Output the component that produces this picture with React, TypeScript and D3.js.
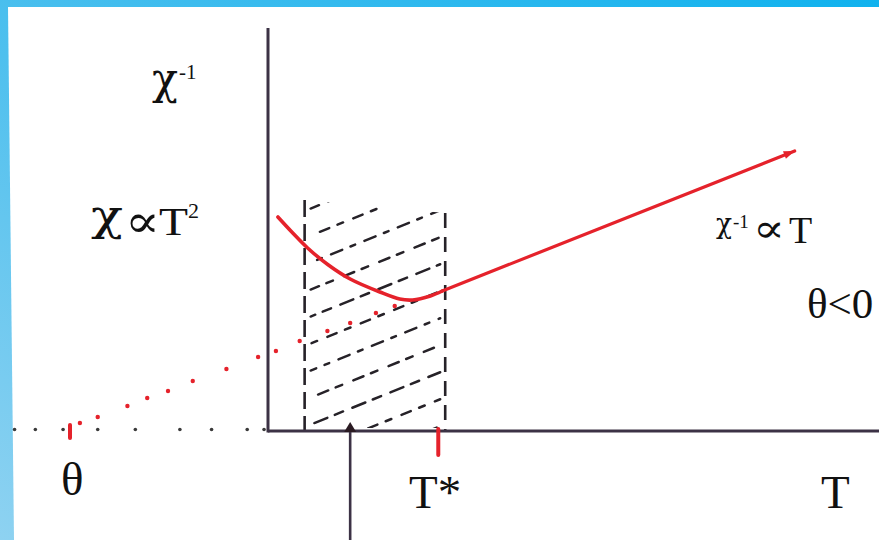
import React from "react";
import * as d3 from "d3";

// Temperature (T) and inverse susceptibility (χ⁻¹) in arbitrary units.
const thetaT = -2;
const tStarT = 1.72;
const bandStartT = 0.37;
const bandEndT = 1.79;

// Low-temperature curve χ⁻¹(T): falls from the axis to a minimum below T*.
const lowCurve: [number, number][] = [
  [0.1, 2.14],
  [0.25, 1.98],
  [0.4, 1.83],
  [0.61, 1.66],
  [0.83, 1.52],
  [1.13, 1.39],
  [1.33, 1.32],
  [1.46, 1.31],
  [1.64, 1.35],
  [1.76, 1.4],
];

// High-temperature Curie–Weiss line χ⁻¹ ∝ (T − θ).
const highLine: [number, number][] = [
  [1.76, 1.4],
  [5.32, 2.8],
];

// Dotted extrapolation of the linear part back towards θ.
const extrapolationDots: [number, number][] = [
  [-1.9, 0.08],
  [-1.72, 0.14],
  [-1.42, 0.25],
  [-1.22, 0.33],
  [-1.01, 0.4],
  [-0.76, 0.5],
  [-0.42, 0.62],
  [-0.1, 0.74],
  [0.08, 0.8],
  [0.32, 0.9],
  [0.6, 1.0],
  [0.83, 1.08],
  [1.09, 1.18],
  [1.28, 1.25],
];

// Dotted continuation of the T axis to negative temperatures.
const negAxisDots: number[] = [-2.56, -2.35, -2.07, -1.72, -1.34, -0.89, -0.57, -0.21, -0.04];

// Hatched band: left-edge levels of the diagonal dashed strokes.
const hatchLevels: number[] = [2.2, 1.93, 1.66, 1.39, 1.12, 0.85, 0.58, 0.31, 0.04, -0.23, -0.5];
const hatchSlope = 0.4;
const bandTopLeft = 2.31;
const bandTopRight = 2.18;

const arrowT = 0.83;

const RED = "#e5222b";
const AXIS = "#3c3245";
const INK = "#262228";
const FONT = "'Liberation Serif', 'Times New Roman', serif";
const GREEK = "'DejaVu Serif', 'Liberation Serif', serif";

const hatchDashes = ["9 10 14 8", "6 11 10 9", "12 9 5 10", "7 12 11 8"];

export default function App() {
  const W = 879;
  const H = 540;
  const x = d3.scaleLinear().domain([-2, 6]).range([70, 862]);
  const y = d3.scaleLinear().domain([0, 4]).range([431, 31]);

  const curvePath = d3
    .line<[number, number]>()
    .x((d) => x(d[0]))
    .y((d) => y(d[1]))
    .curve(d3.curveCatmullRom.alpha(0.5))(lowCurve) as string;

  const linePath = d3
    .line<[number, number]>()
    .x((d) => x(d[0]))
    .y((d) => y(d[1]))(highLine) as string;

  const x0 = x(0);
  const y0 = y(0);
  const bx0 = x(bandStartT);
  const bx1 = x(bandEndT);
  const bandW = bandEndT - bandStartT;

  // Arrowhead geometry at the end of the high-T line
  const [ea, eb] = highLine;
  const ex = x(eb[0]);
  const ey = y(eb[1]);
  const ang = Math.atan2(y(eb[1]) - y(ea[1]), x(eb[0]) - x(ea[0]));
  const headLen = 11;
  const headHalf = 4;
  const hx = ex - headLen * Math.cos(ang);
  const hy = ey - headLen * Math.sin(ang);
  const arrowHead = [
    [ex, ey],
    [hx - headHalf * Math.sin(ang), hy + headHalf * Math.cos(ang)],
    [hx + headHalf * Math.sin(ang), hy - headHalf * Math.cos(ang)],
  ]
    .map((p) => p.join(","))
    .join(" ");

  const ax = x(arrowT);

  return (
    <svg
      width={W}
      height={H}
      viewBox={`0 0 ${W} ${H}`}
      style={{ position: "fixed", left: 0, top: 0, display: "block" }}
    >
      <defs>
        <linearGradient id="frame" x1="0" y1="1" x2="1" y2="0">
          <stop offset="0%" stopColor="#8ed2f1" />
          <stop offset="45%" stopColor="#4fc0ee" />
          <stop offset="100%" stopColor="#10b2ee" />
        </linearGradient>
        <clipPath id="band">
          <polygon
            points={`${bx0},${y(bandTopLeft)} ${bx1},${y(bandTopRight)} ${bx1},${y0 - 3} ${bx0},${y0 - 3}`}
          />
        </clipPath>
      </defs>

      {/* frame and white sheet */}
      <rect x={0} y={0} width={W} height={H} fill="url(#frame)" />
      <polygon points={`8,7 ${W},7 ${W},${H} 14,${H}`} fill="#ffffff" />

      {/* hatched region between the two dashed verticals */}
      <g clipPath="url(#band)">
        {hatchLevels.map((lv, i) => (
          <line
            key={i}
            x1={bx0 + 6}
            y1={y(lv + hatchSlope * (6 / 99))}
            x2={bx1 - 5}
            y2={y(lv + hatchSlope * (bandW - 5 / 99))}
            stroke={INK}
            strokeWidth={2.5}
            strokeDasharray={hatchDashes[i % hatchDashes.length]}
            strokeDashoffset={i * 7}
            strokeLinecap="round"
          />
        ))}
      </g>
      <line x1={bx0} y1={y(bandTopLeft)} x2={bx0} y2={y0} stroke={INK} strokeWidth={2.6} strokeDasharray="17 7" />
      <line x1={bx1} y1={y(bandTopRight)} x2={bx1} y2={y0} stroke={INK} strokeWidth={2.6} strokeDasharray="15 9" />

      {/* negative-T dotted axis */}
      {negAxisDots.map((t, i) => (
        <circle key={i} cx={x(t)} cy={y0 - 1.5} r={1.8} fill="#3a3a3a" />
      ))}

      {/* axes */}
      <line x1={x0} y1={28} x2={x0} y2={y0 + 1.5} stroke={AXIS} strokeWidth={3} />
      <line x1={x0} y1={y0} x2={W} y2={y0} stroke={AXIS} strokeWidth={3} />

      {/* extrapolation dots */}
      {extrapolationDots.map((d, i) => (
        <circle key={i} cx={x(d[0])} cy={y(d[1])} r={2.2} fill={RED} />
      ))}

      {/* χ⁻¹(T) curve and Curie–Weiss line */}
      <path d={curvePath} fill="none" stroke={RED} strokeWidth={3.6} strokeLinecap="round" />
      <path d={linePath} fill="none" stroke={RED} strokeWidth={3.2} strokeLinecap="round" />
      <polygon points={arrowHead} fill={RED} />

      {/* θ and T* markers */}
      <line x1={x(thetaT)} y1={y0 - 6} x2={x(thetaT)} y2={y0 + 7} stroke={RED} strokeWidth={4} strokeLinecap="round" />
      <line x1={x(tStarT)} y1={y0 - 2} x2={x(tStarT)} y2={y0 + 24} stroke={RED} strokeWidth={4} strokeLinecap="round" />

      {/* upward arrow from below */}
      <line x1={ax} y1={H} x2={ax} y2={y0 - 2} stroke={AXIS} strokeWidth={2.6} />
      <polygon points={`${ax},${y0 - 9} ${ax - 6},${y0 + 1} ${ax + 6},${y0 + 1}`} fill="#2a1a22" />

      {/* labels */}
      <g fontFamily={FONT} fill="#111">
        <text x={152} y={94} fontSize={44} fontFamily={GREEK} textLength={26} lengthAdjust="spacingAndGlyphs">χ</text>
        <text x={179} y={79} fontSize={21}>-1</text>

        <text x={91} y={230} fontSize={42} fontFamily={GREEK} textLength={32} lengthAdjust="spacingAndGlyphs">χ</text>
        <text x={125} y={237} fontSize={46} fontFamily={GREEK} textLength={35} lengthAdjust="spacingAndGlyphs">∝</text>
        <text x={159} y={235} fontSize={40} textLength={29} lengthAdjust="spacingAndGlyphs">T</text>
        <text x={188} y={218} fontSize={22}>2</text>

        <text x={716} y={233} fontSize={28} fontFamily={GREEK} textLength={16} lengthAdjust="spacingAndGlyphs">χ</text>
        <text x={733} y={228} fontSize={19}>-1</text>
        <text x={753} y={242} fontSize={40} fontFamily={GREEK} textLength={32} lengthAdjust="spacingAndGlyphs">∝</text>
        <text x={789} y={243} fontSize={38}>T</text>

        <text x={807} y={318} fontSize={43}>θ&lt;0</text>

        <text x={61} y={495} fontSize={47}>θ</text>
        <text x={409} y={508} fontSize={47}>T*</text>
        <text x={821} y={508} fontSize={47}>T</text>
      </g>
    </svg>
  );
}
